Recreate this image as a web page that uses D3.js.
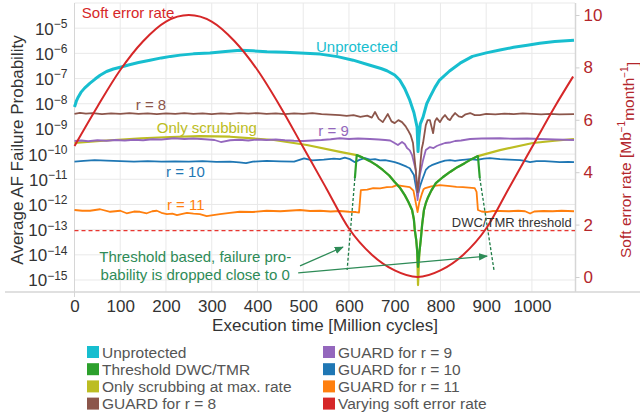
<!DOCTYPE html>
<html>
<head>
<meta charset="utf-8">
<script src="https://cdn.jsdelivr.net/npm/d3@7"></script>
<style>
  body { margin: 0; background: #fff; }
  svg { display: block; font-family: "Liberation Sans", Arial, sans-serif; }
</style>
</head>
<body>
<svg id="chart" width="640" height="416"></svg>
<script>
// values: [million cycles, log10(failure probability)]
const unprotected = [[0,-8.13],[4,-7.9],[8,-7.74],[14,-7.55],[22,-7.38],[34,-7.18],[45,-7.02],[56,-6.87],[70,-6.72],[85,-6.62],[100,-6.55],[120,-6.45],[140,-6.36],[165,-6.27],[190,-6.18],[210,-6.12],[231,-6.07],[260,-6.02],[296,-5.99],[330,-5.93],[362,-5.88],[390,-5.9],[421,-5.94],[460,-5.96],[493,-5.99],[537,-6.03],[575,-6.13],[609,-6.27],[646,-6.47],[670,-6.6],[683,-6.69],[700,-6.86],[711,-7.06],[722,-7.4],[733,-7.86],[742,-8.35],[749,-8.93],[751,-9.9],[753,-9.3],[756,-8.8],[762,-8.53],[770,-8.0],[777,-7.74],[788,-7.35],[798,-7.06],[820,-6.7],[843,-6.39],[870,-6.12],[900,-5.98],[930,-5.87],[960,-5.76],[990,-5.68],[1017,-5.6],[1050,-5.53],[1092,-5.48]];

const guardR8 = [[0,-8.40],[12,-8.36],[25,-8.39],[40,-8.37],[60,-8.41],[80,-8.38],[100,-8.40],[120,-8.37],[140,-8.40],[160,-8.38],[180,-8.41],[200,-8.38],[220,-8.40],[240,-8.37],[260,-8.40],[280,-8.38],[300,-8.41],[320,-8.38],[340,-8.40],[360,-8.37],[380,-8.39],[400,-8.37],[420,-8.40],[440,-8.38],[460,-8.41],[480,-8.38],[500,-8.40],[520,-8.37],[540,-8.41],[560,-8.43],[580,-8.45],[595,-8.48],[610,-8.45],[625,-8.52],[640,-8.47],[650,-8.55],[657,-8.33],[665,-8.6],[674,-8.73],[685,-8.41],[693,-8.7],[700,-8.77],[708,-8.65],[716,-8.73],[724,-8.9],[729,-9.05],[735,-9.25],[740,-9.56],[746,-10.63],[750,-11.51],[755,-10.63],[759,-9.8],[762,-9.56],[768,-8.85],[772,-8.65],[777,-8.65],[784,-9.17],[788,-8.7],[792,-8.57],[799,-8.73],[805,-8.55],[810,-8.45],[816,-8.6],[821,-8.65],[826,-8.5],[832,-8.37],[840,-8.5],[847,-8.53],[855,-8.42],[865,-8.37],[875,-8.45],[886,-8.45],[900,-8.40],[920,-8.42],[940,-8.39],[960,-8.41],[980,-8.38],[1000,-8.40],[1020,-8.42],[1040,-8.40],[1060,-8.42],[1092,-8.41]];

const guardR9 = [[0,-9.48],[15,-9.46],[30,-9.49],[50,-9.45],[70,-9.47],[90,-9.44],[110,-9.46],[130,-9.43],[150,-9.45],[170,-9.41],[190,-9.42],[218,-9.37],[240,-9.40],[260,-9.38],[285,-9.41],[306,-9.44],[320,-9.52],[340,-9.45],[360,-9.43],[380,-9.46],[400,-9.42],[420,-9.44],[440,-9.42],[460,-9.45],[480,-9.47],[500,-9.48],[520,-9.46],[540,-9.44],[560,-9.41],[580,-9.37],[600,-9.40],[620,-9.38],[646,-9.40],[665,-9.42],[679,-9.44],[690,-9.46],[696,-9.52],[707,-9.64],[716,-9.52],[722,-9.6],[727,-9.76],[733,-9.85],[738,-10.04],[746,-10.63],[750,-11.83],[755,-10.83],[762,-10.24],[768,-9.84],[777,-9.72],[785,-9.76],[792,-9.68],[800,-9.62],[810,-9.56],[820,-9.54],[832,-9.48],[845,-9.46],[865,-9.40],[890,-9.38],[930,-9.37],[960,-9.39],[990,-9.38],[1017,-9.40],[1050,-9.42],[1092,-9.44]];

const guardR10 = [[0,-10.30],[20,-10.27],[44,-10.24],[70,-10.26],[100,-10.28],[130,-10.30],[160,-10.28],[190,-10.30],[220,-10.29],[250,-10.30],[280,-10.28],[310,-10.31],[340,-10.30],[360,-10.33],[375,-10.36],[390,-10.30],[420,-10.27],[450,-10.29],[480,-10.30],[502,-10.17],[520,-10.25],[545,-10.22],[567,-10.18],[580,-10.20],[591,-10.14],[602,-10.2],[613,-10.32],[624,-10.22],[635,-10.16],[646,-10.22],[657,-10.20],[668,-10.25],[679,-10.24],[690,-10.28],[700,-10.32],[710,-10.38],[718,-10.44],[726,-10.5],[733,-10.56],[742,-10.83],[750,-11.67],[755,-11.3],[760,-11.03],[768,-10.63],[775,-10.5],[781,-10.44],[790,-10.38],[799,-10.32],[810,-10.26],[821,-10.24],[832,-10.27],[843,-10.24],[855,-10.22],[865,-10.2],[880,-10.23],[895,-10.18],[908,-10.16],[930,-10.2],[950,-10.22],[974,-10.24],[985,-10.27],[996,-10.32],[1010,-10.28],[1028,-10.28],[1045,-10.3],[1061,-10.32],[1080,-10.31],[1092,-10.32]];

const guardR11 = [[0,-12.22],[17,-12.25],[34,-12.25],[56,-12.19],[78,-12.29],[100,-12.25],[114,-12.35],[130,-12.28],[143,-12.29],[158,-12.35],[170,-12.27],[180,-12.25],[190,-12.33],[202,-12.38],[214,-12.36],[224,-12.42],[236,-12.37],[246,-12.33],[260,-12.36],[274,-12.38],[289,-12.46],[303,-12.42],[318,-12.38],[340,-12.33],[361,-12.29],[390,-12.30],[420,-12.25],[450,-12.27],[493,-12.22],[515,-12.26],[537,-12.25],[560,-12.28],[580,-12.26],[600,-12.29],[615,-12.30],[622,-12.32],[626,-11.43],[640,-11.41],[653,-11.35],[668,-11.36],[683,-11.31],[695,-11.3],[705,-11.23],[718,-11.27],[733,-11.31],[741,-11.45],[745,-11.83],[750,-12.30],[754,-11.9],[759,-11.6],[763,-11.4],[767,-11.35],[780,-11.28],[799,-11.23],[810,-11.25],[821,-11.27],[835,-11.3],[849,-11.31],[862,-11.33],[875,-11.35],[879,-11.5],[882,-12.22],[890,-12.28],[901,-12.30],[915,-12.26],[930,-12.26],[950,-12.27],[970,-12.25],[985,-12.27],[996,-12.36],[1005,-12.28],[1025,-12.26],[1045,-12.27],[1065,-12.25],[1092,-12.27]];

const scrubbingOnly = [[0,-9.56],[70,-9.46],[146,-9.37],[210,-9.32],[274,-9.29],[340,-9.31],[436,-9.44],[508,-9.64],[583,-9.92],[617,-10.04],[630,-10.14],[646,-10.28],[660,-10.44],[674,-10.63],[688,-10.85],[700,-11.11],[712,-11.35],[722,-11.63],[730,-11.9],[738,-12.22],[742,-12.6],[744,-13.02],[747,-13.4],[749,-13.81],[751,-15.2],[754,-13.9],[757,-13.41],[760,-12.8],[764,-12.22],[768,-11.95],[773,-11.71],[780,-11.45],[790,-11.15],[805,-10.92],[821,-10.71],[837,-10.52],[853,-10.36],[868,-10.2],[882,-10.08],[930,-9.84],[1002,-9.56],[1050,-9.47],[1092,-9.40]];

const thresholdDwcTmr = [[613,-10.95],[617,-10.04],[630,-10.14],[646,-10.28],[660,-10.44],[674,-10.63],[688,-10.85],[700,-11.11],[712,-11.35],[722,-11.63],[730,-11.9],[738,-12.22],[742,-12.6],[744,-13.02],[747,-13.4],[749,-13.81],[751,-14.48],[754,-13.9],[757,-13.41],[760,-12.8],[764,-12.22],[768,-11.95],[773,-11.71],[780,-11.45],[790,-11.15],[805,-10.92],[821,-10.71],[837,-10.52],[853,-10.36],[868,-10.2],[882,-10.08],[886,-10.95]];

// dashed drops of the threshold curve towards ~0
const thresholdDrops = [
  [[613,-10.95],[596,-14.6]],
  [[886,-10.95],[917,-14.6]]
];

const dwcTmrThreshold = -13.04;

// soft error rate, right axis [Mb^-1 month^-1]
const rateTimes = [0,50,100,150,200,250,300,350,400,450,500,550,600,650,700,750,800,850,900,950,1000,1050,1090];
const rateValues = [5.0,6.5,7.9,9.0,9.75,10.0,9.75,9.0,7.9,6.5,4.95,3.4,1.85,0.85,0.25,0.0,0.25,0.85,1.85,3.4,4.95,6.5,7.65];

const xTicks = [0,100,200,300,400,500,600,700,800,900,1000];
const yExponents = [-15,-14,-13,-12,-11,-10,-9,-8,-7,-6,-5];
const rateTicks = [0,2,4,6,8,10];

const legendNames = ['Unprotected','Threshold DWC/TMR','Only scrubbing at max. rate','GUARD for r = 8',
                     'GUARD for r = 9','GUARD for r = 10','GUARD for r = 11','Varying soft error rate'];
const legendColors = ['#17becf','#2ca02c','#bcbd22','#8c564b','#9467bd','#1f77b4','#ff7f0e','#d62728'];

const svg = d3.select('#chart');
svg.append('rect').attr('width', 640).attr('height', 416).attr('fill', '#fff');

const x = d3.scaleLinear().domain([0, 1092]).range([74.5, 574]);
const y = d3.scaleLog().domain([Math.pow(10, -15.476), 1e-4]).range([292, 3]);
const yRate = d3.scaleLinear().domain([-0.573, 10.458]).range([292, 3]);
const ye = (e) => y(Math.pow(10, e));

// grid
const grid = svg.append('g').attr('stroke', '#e9e9e9').attr('stroke-width', 1);
xTicks.filter(t => t > 0).forEach(t => {
  grid.append('line').attr('x1', x(t)).attr('x2', x(t)).attr('y1', 3).attr('y2', 292);
});
yExponents.concat([-4]).forEach(e => {
  grid.append('line').attr('x1', 74.5).attr('x2', 575).attr('y1', ye(e)).attr('y2', ye(e));
});

// frame
svg.append('line').attr('x1', 74.5).attr('x2', 74.5).attr('y1', 3).attr('y2', 297).attr('stroke', '#d6d6d6');
svg.append('line').attr('x1', 5).attr('x2', 640).attr('y1', 292).attr('y2', 292).attr('stroke', '#d6d6d6').attr('stroke-width', 1.5);
svg.append('line').attr('x1', 575.5).attr('x2', 575.5).attr('y1', 3).attr('y2', 292).attr('stroke', '#d6d6d6').attr('stroke-width', 1.5);

// threshold line
svg.append('line')
  .attr('x1', 74.5).attr('x2', 575)
  .attr('y1', ye(dwcTmrThreshold)).attr('y2', ye(dwcTmrThreshold))
  .attr('stroke', '#e8352f').attr('stroke-width', 1.2).attr('stroke-dasharray', '4,3');

const line = d3.line().x(d => x(d[0])).y(d => ye(d[1]));

const series = [
  { data: scrubbingOnly, color: '#bcbd22', w: 2.2 },
  { data: guardR11, color: '#ff7f0e', w: 1.8 },
  { data: guardR10, color: '#1f77b4', w: 1.8 },
  { data: guardR9, color: '#9467bd', w: 1.8 },
  { data: guardR8, color: '#8c564b', w: 1.8 },
  { data: unprotected, color: '#17becf', w: 3 },
  { data: thresholdDwcTmr, color: '#2ca02c', w: 2.2 }
];
series.forEach(s => {
  svg.append('path').attr('d', line(s.data))
    .attr('fill', 'none').attr('stroke', s.color)
    .attr('stroke-width', s.w).attr('stroke-linejoin', 'round');
});

thresholdDrops.forEach(d => {
  svg.append('path').attr('d', line(d))
    .attr('fill', 'none').attr('stroke', '#1e7b45')
    .attr('stroke-width', 1.3).attr('stroke-dasharray', '3,2');
});

// soft error rate
const rateLine = d3.line()
  .x((d, i) => x(rateTimes[i]))
  .y(d => yRate(d))
  .curve(d3.curveMonotoneX);
svg.append('path').attr('d', rateLine(rateValues))
  .attr('fill', 'none').attr('stroke', '#d62728').attr('stroke-width', 2);

// annotation arrows
svg.append('defs').append('marker')
  .attr('id', 'arrow').attr('viewBox', '0 0 10 10')
  .attr('refX', 9).attr('refY', 5)
  .attr('markerWidth', 7).attr('markerHeight', 7)
  .attr('orient', 'auto')
  .append('path').attr('d', 'M0,1L10,5L0,9Z').attr('fill', '#2e8b57');

const arrows = [
  [[493,-14.44],[587,-13.69]],
  [[489,-14.72],[902,-14.05]]
];
arrows.forEach(a => {
  svg.append('line')
    .attr('x1', x(a[0][0])).attr('y1', ye(a[0][1]))
    .attr('x2', x(a[1][0])).attr('y2', ye(a[1][1]))
    .attr('stroke', '#2e8b57').attr('stroke-width', 1.3)
    .attr('marker-end', 'url(#arrow)');
});

// series labels
const labels = [
  { text: 'Soft error rate', t: 16, e: -4.6, color: '#d62728' },
  { text: 'Unprotected', t: 528, e: -5.95, color: '#17becf' },
  { text: 'r = 8', t: 134, e: -8.25, color: '#8c564b' },
  { text: 'Only scrubbing', t: 180, e: -9.17, color: '#bcbd22' },
  { text: 'r = 9', t: 533, e: -9.29, color: '#9467bd' },
  { text: 'r = 10', t: 200, e: -10.91, color: '#1f77b4' },
  { text: 'r = 11', t: 202, e: -12.22, color: '#ff7f0e' }
];
labels.forEach(l => {
  svg.append('text').attr('x', x(l.t)).attr('y', ye(l.e))
    .attr('fill', l.color).attr('font-size', 15).text(l.text);
});

const note = svg.append('text').attr('fill', '#2e8b57').attr('font-size', 15).attr('text-anchor', 'middle');
note.append('tspan').attr('x', x(264)).attr('y', ye(-14.29)).text('Threshold based, failure pro-');
note.append('tspan').attr('x', x(264)).attr('y', ye(-15.0)).text('bability is dropped close to 0');

svg.append('text').attr('x', x(1087)).attr('y', ye(-12.9))
  .attr('text-anchor', 'end').attr('font-size', 13).attr('fill', '#333')
  .text('DWC/TMR threshold');

// axes
const xAxis = svg.append('g').attr('transform', 'translate(0,292)')
  .call(d3.axisBottom(x).tickValues(xTicks).tickSize(0).tickPadding(8).tickFormat(d3.format('d')));
xAxis.select('.domain').remove();
xAxis.selectAll('text').attr('font-size', 17).attr('fill', '#333').attr('font-family', null);

const yAxis = svg.append('g').attr('transform', 'translate(74.5,0)')
  .call(d3.axisLeft(y).tickValues(yExponents.map(e => Math.pow(10, e))).tickSize(0).tickPadding(7).tickFormat(''));
yAxis.select('.domain').remove();
yAxis.selectAll('.tick text').each(function (d) {
  const t = d3.select(this).attr('font-size', 17).attr('fill', '#333').attr('font-family', null).attr('dy', '0.35em');
  t.append('tspan').text('10');
  t.append('tspan').attr('font-size', 12).attr('dy', '-0.55em').text('−' + Math.round(-Math.log10(d)));
});

const rAxis = svg.append('g').attr('transform', 'translate(575.5,0)')
  .call(d3.axisRight(yRate).tickValues(rateTicks).tickSize(4).tickPadding(4));
rAxis.select('.domain').remove();
rAxis.selectAll('line').attr('stroke', '#cfcfcf');
rAxis.selectAll('text').attr('font-size', 17).attr('fill', '#b3262c').attr('font-family', null);

// axis titles
svg.append('text').attr('x', 325).attr('y', 331).attr('text-anchor', 'middle')
  .attr('font-size', 17).attr('fill', '#333').text('Execution time [Million cycles]');

svg.append('text').attr('transform', 'translate(23,150) rotate(-90)')
  .attr('text-anchor', 'middle').attr('font-size', 17).attr('fill', '#333')
  .text('Average AF Failure Probability');

const rTitle = svg.append('text').attr('transform', 'translate(631,160) rotate(-90)')
  .attr('text-anchor', 'middle').attr('font-size', 15.5).attr('fill', '#b3262c');
rTitle.append('tspan').text('Soft error rate [Mb');
rTitle.append('tspan').attr('font-size', 10).attr('dy', '-0.6em').text('−1');
rTitle.append('tspan').attr('dy', '0.6em').text('month');
rTitle.append('tspan').attr('font-size', 10).attr('dy', '-0.6em').text('−1');
rTitle.append('tspan').attr('dy', '0.6em').text(']');

// legend
const legend = svg.append('g');
legendNames.forEach((name, i) => {
  const col = Math.floor(i / 4), row = i % 4;
  const lx = col === 0 ? 87 : 323;
  const ly = 352 + row * 17.2;
  legend.append('rect').attr('x', lx).attr('y', ly - 6).attr('width', 12).attr('height', 12)
    .attr('fill', legendColors[i]);
  legend.append('text').attr('x', lx + 15).attr('y', ly + 5.5)
    .attr('font-size', 15.5).attr('fill', '#555').text(name);
});
</script>
</body>
</html>
